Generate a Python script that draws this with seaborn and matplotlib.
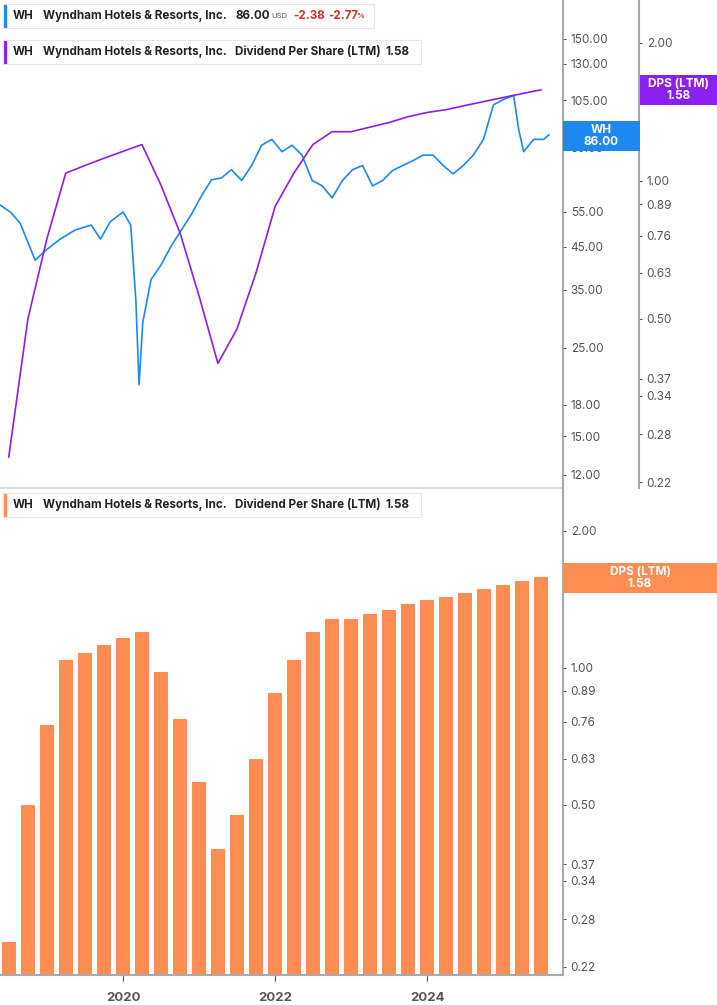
import matplotlib
matplotlib.use('Agg')
import pandas as pd
import matplotlib.pyplot as plt
import matplotlib.dates as mdates
import seaborn as sns

plt.rcParams['font.family'] = 'Inter'

price_dates = ["2018-05-20", "2018-07-10", "2018-08-25", "2018-11-05", "2018-12-25", "2019-03-05",
               "2019-05-15", "2019-08-01", "2019-09-15", "2019-11-01", "2020-01-01", "2020-02-07",
               "2020-03-03", "2020-03-18", "2020-04-05", "2020-05-15", "2020-07-01", "2020-08-20",
               "2020-10-08", "2020-11-25", "2021-01-12", "2021-03-01", "2021-04-18", "2021-06-05",
               "2021-07-24", "2021-09-10", "2021-10-28", "2021-12-16", "2022-02-03", "2022-03-23",
               "2022-05-10", "2022-06-28", "2022-08-15", "2022-10-02", "2022-11-20", "2023-01-08",
               "2023-02-25", "2023-04-14", "2023-06-01", "2023-07-20", "2023-09-06", "2023-10-24",
               "2023-12-12", "2024-01-30", "2024-03-18", "2024-05-05", "2024-06-23", "2024-08-10",
               "2024-09-28", "2024-11-15", "2025-01-03", "2025-02-20", "2025-03-16", "2025-04-09",
               "2025-05-27", "2025-07-14", "2025-08-08"]
price = [57.3, 54.9, 51.5, 41.6, 44.0, 47.0, 49.5, 51.0, 47.0, 52.0, 55.0, 51.0,
         32.8, 20.2, 29.0, 37.2, 40.4, 45.2, 49.6, 54.3, 60.4, 66.3, 67.0, 70.3,
         66.0, 72.0, 81.0, 83.8, 78.0, 81.0, 76.5, 66.0, 64.0, 59.7, 66.0, 70.3,
         72.0, 64.0, 66.0, 70.0, 72.0, 74.0, 76.5, 76.5, 72.0, 68.6, 72.0, 76.5,
         83.8, 102.4, 105.7, 108.0, 88.8, 78.0, 83.8, 83.8, 86.0]

dps_dates = pd.date_range("2018-07-01", "2025-07-01", freq="QS")
dps = [0.25, 0.50, 0.75, 1.04, 1.08, 1.12, 1.16, 1.20, 0.98, 0.77, 0.56, 0.40,
       0.475, 0.63, 0.88, 1.04, 1.20, 1.28, 1.28, 1.31, 1.34, 1.38, 1.41, 1.43,
       1.46, 1.49, 1.52, 1.55, 1.58]

price_ticks = [150, 130, 105, 80, 55, 45, 35, 25, 18, 15, 12]
dps_ticks = [2.00, 1.00, 0.89, 0.76, 0.63, 0.50, 0.37, 0.34, 0.28, 0.22]

blue = "#1e88f0"
purple = "#8a1ff0"
orange = "#ff8c52"
grey = "#555555"

W, H = 717, 1005
fig = plt.figure(figsize=(W / 100, H / 100), dpi=100)

def frac(x0, y0, x1, y1):
    return [x0 / W, 1 - y1 / H, (x1 - x0) / W, (y1 - y0) / H]

xlim = (mdates.date2num(pd.Timestamp("2018-05-20")), mdates.date2num(pd.Timestamp("2025-10-15")))

def style(ax):
    for s in ["top", "left", "bottom"]:
        ax.spines[s].set_visible(False)
    ax.spines["right"].set_visible(True)
    ax.spines["right"].set_color("#aaaaaa")
    ax.spines["right"].set_linewidth(1.5)
    ax.yaxis.tick_right()
    ax.tick_params(axis="y", colors=grey, labelsize=8.5, length=2, direction="out")
    ax.yaxis.set_minor_locator(matplotlib.ticker.NullLocator())

# top panel
pdf = pd.DataFrame({"date": pd.to_datetime(price_dates), "price": price})
ddf = pd.DataFrame({"date": dps_dates, "dps": dps})

ax1 = fig.add_axes(frac(0, 0, 563, 488))
ax1.set_yscale("log")
sns.lineplot(data=pdf, x="date", y="price", color=blue, linewidth=1.2, ax=ax1)
ax2 = ax1.twinx()
ax1.set_ylim(11.1, 188)
ax1.set_yticks(price_ticks)
ax1.set_yticklabels([f"{t:.2f}" for t in price_ticks])
ax1.set_xlim(xlim)
ax1.set_xticks([])
ax1.set_xlabel("")
ax1.set_ylabel("")
style(ax1)
ax1.axhline(ax1.get_ylim()[0], color="#dddddd", lw=1.5, clip_on=False)

ax2.set_yscale("log")
sns.lineplot(data=ddf, x="date", y="dps", color=purple, linewidth=1.2, ax=ax2)
ax2.set_ylim(0.214, 2.48)
ax2.set_yticks(dps_ticks)
ax2.set_yticklabels([f"{t:.2f}" for t in dps_ticks])
ax2.set_xlim(xlim)
ax2.set_ylabel("")
style(ax2)
ax2.spines["right"].set_position(("axes", 639 / 563))
ax2.spines["right"].set_bounds(0.214, 2.48)

# bottom panel
ax3 = fig.add_axes(frac(0, 490, 563, 975))
ax3.set_yscale("log")
ax3.bar(mdates.date2num(ddf["date"]), ddf["dps"], width=68, color=orange)
ax3.set_ylim(0.211, 2.46)
ax3.set_yticks(dps_ticks)
ax3.set_yticklabels([f"{t:.2f}" for t in dps_ticks])
ax3.set_xlim(xlim)
style(ax3)
ax3.spines["bottom"].set_visible(True)
ax3.spines["bottom"].set_color("#aaaaaa")
ax3.spines["bottom"].set_linewidth(1.5)
ax3.xaxis.set_major_locator(mdates.YearLocator(2))
ax3.xaxis.set_major_formatter(mdates.DateFormatter("%Y"))
ax3.tick_params(axis="x", colors=grey, labelsize=9.5, length=4, pad=8)
for lab in ax3.get_xticklabels():
    lab.set_fontweight("bold")

# value boxes on the right
def value_box(y0, y1, x0, x1, color, text):
    ax = fig.add_axes(frac(x0, y0, x1, y1))
    ax.set_facecolor(color)
    ax.set_xticks([])
    ax.set_yticks([])
    for s in ax.spines.values():
        s.set_visible(False)
    ax.text(0.5, 0.5, text, color="white", ha="center", va="center",
            fontsize=8.5, fontweight="bold", linespacing=1.0, transform=ax.transAxes)

value_box(121, 151, 563, 640, blue, "WH\n86.00")
value_box(75, 105, 640, 717, purple, "DPS (LTM)\n1.58")
value_box(563, 593, 563, 717, orange, "DPS (LTM)\n1.58")

# legend boxes
def legend_box(y, x1, color, parts):
    ax = fig.add_axes(frac(3, y - 12, x1, y + 12))
    ax.set_xticks([])
    ax.set_yticks([])
    ax.set_facecolor("white")
    for s in ax.spines.values():
        s.set_color("#e6e6e6")
    ax.axvspan(0, 3 / (x1 - 3), color=color)
    ax.set_xlim(0, 1)
    for xp, txt, c, w, fs in parts:
        ax.text((xp - 3) / (x1 - 3), 0.5, txt, color=c, fontsize=fs, fontweight=w,
                va="center", ha="left", transform=ax.transAxes)

dark = "#222222"
name = [(13, "WH", dark, "bold", 8.4), (43, "Wyndham Hotels & Resorts, Inc.", dark, "bold", 8.4)]
legend_box(16, 374, blue, name + [(236, "86.00", dark, "bold", 8.4), (271, "USD", grey, "normal", 5.5),
                                  (293, "-2.38", "#d32f2f", "bold", 8.4), (328, "-2.77", "#d32f2f", "bold", 8.4),
                                  (356, "%", "#d32f2f", "bold", 5.5)])
dps_parts = name + [(235, "Dividend Per Share (LTM)", dark, "bold", 8.4), (385, "1.58", dark, "bold", 8.4)]
legend_box(52, 421, purple, dps_parts)
legend_box(505, 421, orange, dps_parts)

fig.savefig("out.png", dpi=100)
